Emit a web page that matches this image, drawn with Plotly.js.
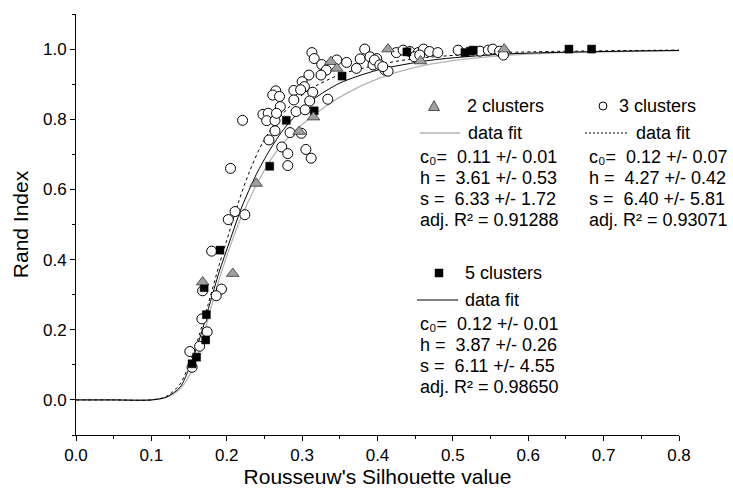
<!DOCTYPE html>
<html>
<head>
<meta charset="utf-8">
<script src="https://cdn.plot.ly/plotly-3.0.1.min.js"></script>
<style>html,body{margin:0;padding:0;background:#fff;}#chart{width:733px;height:488px;}</style>
</head>
<body>
<div id="chart"></div>
<script>
// 3 clusters (open circles)
const c3x = [0.313,0.316,0.326,0.383,0.377,0.390,0.399,0.359,0.346,0.372,0.394,0.332,0.325,0.309,0.300,0.303,0.289,0.298,0.314,0.334,0.265,0.261,0.270,0.289,0.310,0.271,0.248,0.255,0.253,0.264,0.266,0.221,0.292,0.304,0.284,0.299,0.264,0.256,0.273,0.281,0.305,0.312,0.205,0.281,0.211,0.224,0.202,0.180,0.168,0.193,0.186,0.167,0.174,0.164,0.151,0.154,0.396,0.403,0.410,0.425,0.434,0.443,0.454,0.461,0.469,0.480,0.449,0.456,0.507,0.536,0.547,0.553,0.562,0.567,0.414,0.407];
const c3y = [0.990,0.973,0.956,1.000,0.972,0.978,0.973,0.962,0.969,0.945,0.955,0.940,0.926,0.926,0.907,0.893,0.882,0.884,0.877,0.857,0.881,0.869,0.865,0.855,0.852,0.836,0.814,0.817,0.796,0.796,0.817,0.797,0.822,0.827,0.762,0.760,0.767,0.741,0.721,0.702,0.714,0.689,0.660,0.668,0.537,0.528,0.514,0.424,0.311,0.316,0.297,0.231,0.194,0.153,0.138,0.093,0.969,0.955,0.940,0.990,0.997,0.993,0.990,1.000,0.993,0.990,0.978,0.983,0.997,0.994,0.997,1.000,0.994,0.983,0.937,0.950];
// 5 clusters (filled squares)
const c5x = [0.154,0.160,0.172,0.173,0.170,0.191,0.257,0.279,0.316,0.353,0.439,0.516,0.523,0.527,0.654,0.684];
const c5y = [0.103,0.122,0.171,0.243,0.320,0.427,0.666,0.797,0.824,0.923,0.992,0.990,0.994,0.997,1.000,1.000];
// 2 clusters (grey triangles)
const c2x = [0.168,0.208,0.239,0.296,0.315,0.338,0.346,0.414,0.457,0.568];
const c2y = [0.336,0.360,0.617,0.765,0.806,0.964,0.945,1.000,0.966,1.000];
// fitted curves
const fit2x = [0,0.05,0.10,0.12,0.14,0.155,0.165,0.18,0.20,0.22,0.25,0.27,0.30,0.33,0.36,0.40,0.45,0.50,0.57,0.65,0.80];
const fit2y = [0,0,0,0.007,0.035,0.09,0.15,0.27,0.41,0.525,0.655,0.72,0.785,0.835,0.875,0.915,0.948,0.967,0.982,0.99,0.996];
const fit5x = [0,0.05,0.10,0.12,0.138,0.149,0.157,0.166,0.177,0.19,0.204,0.22,0.239,0.257,0.275,0.292,0.315,0.35,0.40,0.47,0.57,0.80];
const fit5y = [0,0,0,0.008,0.036,0.084,0.131,0.188,0.27,0.365,0.453,0.55,0.642,0.712,0.77,0.812,0.857,0.903,0.94,0.968,0.986,0.996];
const fit3x = [0,0.05,0.10,0.12,0.138,0.15,0.16,0.175,0.19,0.20,0.215,0.23,0.248,0.27,0.29,0.31,0.35,0.40,0.45,0.57,0.80];
const fit3y = [0,0,0,0.01,0.045,0.1,0.16,0.27,0.385,0.455,0.56,0.65,0.735,0.805,0.85,0.885,0.927,0.955,0.973,0.99,0.997];
// legend texts
const leg2 = ["2 clusters","data fit","c\u2080=  0.11 +/- 0.01","h =  3.61 +/- 0.53","s =  6.33 +/- 1.72","adj. R\u00b2 = 0.91288"];
const leg3 = ["3 clusters","data fit","c\u2080=  0.12 +/- 0.07","h =  4.27 +/- 0.42","s =  6.40 +/- 5.81","adj. R\u00b2 = 0.93071"];
const leg5 = ["5 clusters","data fit","c\u2080=  0.12 +/- 0.01","h =  3.87 +/- 0.26","s =  6.11 +/- 4.55","adj. R\u00b2 = 0.98650"];

const FONT = "Liberation Sans, Arial, sans-serif";
const L = 76, R = 54, T = 14, B = 53, W = 733, H = 488;
const px = p => (p - L) / (W - L - R);
const py = p => (H - B - p) / (H - T - B);

const traces = [
  {x: fit2x, y: fit2y, mode: 'lines', line: {color: '#b4b4b4', width: 1.3, shape: 'spline', smoothing: 0.8}, hoverinfo: 'skip'},
  {x: fit3x, y: fit3y, mode: 'lines', line: {color: '#000', width: 1, dash: '3px,3px', shape: 'spline', smoothing: 0.8}, hoverinfo: 'skip'},
  {x: fit5x, y: fit5y, mode: 'lines', line: {color: '#000', width: 1, shape: 'spline', smoothing: 0.8}, hoverinfo: 'skip'},
  {x: c3x, y: c3y, mode: 'markers', marker: {symbol: 'circle', size: 10, color: '#fff', line: {color: '#000', width: 1}}},
  {x: c5x, y: c5y, mode: 'markers', marker: {symbol: 'square', size: 8, color: '#000', line: {color: '#000', width: 0.5}}},
  {x: c2x, y: c2y, mode: 'markers', marker: {symbol: 'triangle-up', size: 11, color: '#a0a0a0', line: {color: '#333', width: 0.8}}}
];

const ann = [];
const shapes = [];
function addText(xp, yp, text) {
  ann.push({xref: 'paper', yref: 'paper', x: px(xp), y: py(yp), xanchor: 'left', yanchor: 'middle',
    text: text, showarrow: false, font: {family: FONT, size: 18, color: '#000'}});
}
function block(x0, y0, texts, lineStyle, markerFn, lineStart, lineEnd, markerX, textX, fitTextX) {
  markerFn(markerX, y0);
  addText(textX, y0, texts[0]);
  shapes.push({type: 'line', xref: 'paper', yref: 'paper', x0: px(lineStart), x1: px(lineEnd), y0: py(y0 + 27), y1: py(y0 + 27), line: lineStyle});
  addText(fitTextX, y0 + 27, texts[1]);
  addText(x0, y0 + 51, texts[2]);
  addText(x0, y0 + 72, texts[3]);
  addText(x0, y0 + 93, texts[4]);
  addText(x0, y0 + 114, texts[5]);
}
const tri = (x, y) => shapes.push({type: 'path', xref: 'paper', yref: 'paper',
  path: `M ${px(x-5.5)} ${py(y+4.5)} L ${px(x+5.5)} ${py(y+4.5)} L ${px(x)} ${py(y-5.5)} Z`,
  fillcolor: '#a0a0a0', line: {color: '#333', width: 0.8}});
const circ = (x, y) => shapes.push({type: 'circle', xref: 'paper', yref: 'paper',
  x0: px(x-4), x1: px(x+4), y0: py(y+4), y1: py(y-4), fillcolor: '#fff', line: {color: '#000', width: 1}});
const sq = (x, y) => shapes.push({type: 'rect', xref: 'paper', yref: 'paper',
  x0: px(x-4), x1: px(x+4), y0: py(y+4), y1: py(y-4), fillcolor: '#000', line: {color: '#000', width: 0.5}});

block(418, 106, leg2, {color: '#b4b4b4', width: 1.3}, tri, 420, 460, 434, 465, 466);
block(587, 106, leg3, {color: '#000', width: 1, dash: '2px,2px'}, circ, 585, 628, 603, 617, 634);
block(418, 273, leg5, {color: '#000', width: 1}, sq, 417, 458, 439, 463, 463);

const layout = {
  width: W, height: H,
  margin: {l: L, r: R, t: T, b: B, pad: 0},
  paper_bgcolor: '#fff', plot_bgcolor: '#fff',
  showlegend: false,
  font: {family: FONT, color: '#000'},
  xaxis: {
    range: [0, 0.8], dtick: 0.1, tick0: 0, tickformat: '.1f',
    showgrid: false, zeroline: false, showline: true, linecolor: '#000', linewidth: 1,
    ticks: 'outside', ticklen: 5, tickwidth: 1, tickcolor: '#000',
    minor: {ticks: 'outside', ticklen: 3, dtick: 0.05, tickcolor: '#000', showgrid: false},
    tickfont: {family: FONT, size: 17},
    title: {text: "Rousseuw's Silhouette value", font: {family: FONT, size: 21}, standoff: 6}
  },
  yaxis: {
    range: [-0.1, 1.1], dtick: 0.2, tick0: 0, tickformat: '.1f',
    showgrid: false, zeroline: false, showline: true, linecolor: '#000', linewidth: 1,
    ticks: 'outside', ticklen: 5, tickwidth: 1, tickcolor: '#000',
    minor: {ticks: 'outside', ticklen: 3, dtick: 0.1, tickcolor: '#000', showgrid: false},
    tickfont: {family: FONT, size: 17},
    title: {text: 'Rand Index', font: {family: FONT, size: 21}, standoff: 8}
  },
  annotations: ann,
  shapes: shapes
};
Plotly.newPlot('chart', traces, layout, {displayModeBar: false, staticPlot: true});
</script>
</body>
</html>
